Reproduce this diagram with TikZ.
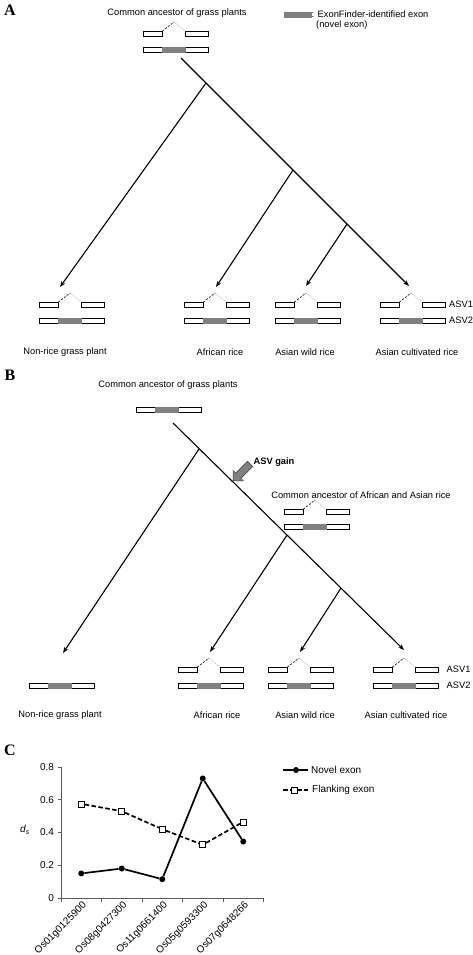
\documentclass[tikz,border=0pt]{standalone}
\usepackage{fontspec}
\setmainfont{Liberation Sans}
\newfontfamily\panelfont{Liberation Serif}
\usepackage{tikz}
\usetikzlibrary{arrows.meta, positioning, shapes.arrows}
\tikzset{%
	exon/.style={draw=black, fill=white, line width=0.7pt},
	novel/.style={draw=gray, fill=gray, line width=0.7pt},
	intron dark/.style={line width=0.6pt, dash pattern=on 2pt off 1.5pt},
	intron light/.style={line width=0.6pt, gray!60, dash pattern=on 1pt off 1pt},
	gene asv1/.pic={
		\draw[exon] (0,0) rectangle (19.5,5);
		\draw[exon] (42,0) rectangle (65,5);
		\draw[intron dark] (19.5,0) -- (31,-9);
		\draw[intron light] (31,-9) -- (42,0);
	},
	gene asv2/.pic={
		\draw[exon] (0,0) rectangle (65,5);
		\filldraw[novel] (19.5,0) rectangle (42,5);
	},
}

\begin{document}
\begin{tikzpicture}[
			x=1pt, y=-1pt,
			every node/.style={inner sep=0pt, font=\fontsize{9.3}{11}\selectfont},
			panel/.style={font=\panelfont\bfseries\fontsize{16}{18}\selectfont},
			branch/.style={line width=1.1pt},
			descent/.style={line width=1.1pt, -{Stealth[length=6pt, width=4.5pt]}},
			chart/.style={font=\fontsize{10}{12}\selectfont},
			axis/.style={line width=0.6pt, gray!70!black},
			novel line/.style={line width=1.7pt},
			flank line/.style={line width=1.7pt, dash pattern=on 4.5pt off 2.5pt},
			dot/.style={circle, fill=black, minimum size=6pt},
			box mark/.style={rectangle, draw=black, fill=white, line width=0.7pt, minimum size=6pt},
			]
			\useasboundingbox (0,0) rectangle (473,955);
			
			% Panel A
			\node[panel] (labA) at (10,10) {A};
			\node (titleA) at (177,13) {Common ancestor of grass plants};
			\pic at (143,31) {gene asv1};
			\pic at (143,47) {gene asv2};
			\node[novel, minimum width=27pt, minimum height=5pt] (key) at (297.5,14.5) {};
			\node[anchor=west] (keytext) at (311.5,14.5) {: ExonFinder-identified exon};
			\node[anchor=west] (keynote) at (316,25.5) {(novel exon)};
			
			% Tree A
			\coordinate (rootA) at (181,58);
			\coordinate (jA1) at (206,83);
			\coordinate (jA2) at (293,170);
			\coordinate (jA3) at (347,224);
			\coordinate (tipA0) at (60,287);
			\coordinate (tipA1) at (216,287);
			\coordinate (tipA2) at (306,286);
			\coordinate (tipA3) at (409,286);
			\draw[descent] (rootA) -- (tipA3);
			\draw[descent] (jA1) -- (tipA0);
			\draw[descent] (jA2) -- (tipA1);
			\draw[descent] (jA3) -- (tipA2);
			
			\foreach \gx in {39,184,275,380} {
				\pic at (\gx,302) {gene asv1};
				\pic at (\gx,318) {gene asv2};
			}
			\node[anchor=west] (asv1A) at (449,304.5) {ASV1};
			\node[anchor=west] (asv2A) at (449,320.5) {ASV2};
			\node (nonriceA) at (65,352) {Non-rice grass plant};
			\node (africanA) at (220,352) {African rice};
			\node (wildA) at (305,352) {Asian wild rice};
			\node (cultA) at (417,352) {Asian cultivated rice};
			
			% Panel B
			\node[panel] (labB) at (10,375) {B};
			\node (titleB) at (168,385) {Common ancestor of grass plants};
			\pic at (136,407) {gene asv2};
			
			% Tree B
			\coordinate (rootB) at (173,423);
			\coordinate (jB1) at (199,449);
			\coordinate (jB2) at (287,535);
			\coordinate (jB3) at (341,588);
			\coordinate (tipB0) at (63,653);
			\coordinate (tipB1) at (210,652);
			\coordinate (tipB2) at (300,652);
			\coordinate (tipB3) at (404,650);
			\draw[descent] (rootB) -- (tipB3);
			\draw[descent] (jB1) -- (tipB0);
			\draw[descent] (jB2) -- (tipB1);
			\draw[descent] (jB3) -- (tipB2);
			
			\node[single arrow, rotate=225, fill=gray, draw=gray!50!black, line width=0.5pt,
				inner sep=3.5pt, single arrow head extend=3.5pt, minimum height=24pt] (gain) at (243,471) {};
			\node[font=\bfseries\fontsize{9.3}{11}\selectfont] (gaintext) at (274,462) {ASV gain};
			\node (ancrice) at (361,495) {Common ancestor of African and Asian rice};
			\pic at (284,509) {gene asv1};
			\pic at (284,524) {gene asv2};
			
			\pic at (29,683) {gene asv2};
			\foreach \gx in {178,268,373} {
				\pic at (\gx,667) {gene asv1};
				\pic at (\gx,683) {gene asv2};
			}
			\node[anchor=west] (asv1B) at (446.5,669.5) {ASV1};
			\node[anchor=west] (asv2B) at (446.5,685.5) {ASV2};
			\node (nonriceB) at (60,715) {Non-rice grass plant};
			\node (africanB) at (217,715) {African rice};
			\node (wildB) at (305,715) {Asian wild rice};
			\node (cultB) at (406,715) {Asian cultivated rice};
			
			% Panel C
			\node[panel] (labC) at (10,750) {C};
			\node[chart] (dslabel) at (25,830) {\textit{d}\textsubscript{\textit{s}}};
			\begin{scope}[shift={(61,898)}, x=40.5pt, y=163.75pt, every node/.append style={chart}]
				\draw[axis] (0,0.8) -- (0,0) -- (5,0);
				\foreach \v/\t in {0/0, 0.2/0.2, 0.4/0.4, 0.6/0.6, 0.8/0.8} {
					\draw[axis] (0,\v) -- ++(-3pt,0);
					\node[anchor=east] (tick\t) at (-0.17,\v) {\t};
				}
				\foreach \i in {0,...,5}
					\draw[axis] (\i,0) -- ++(0,-4pt);
				\foreach \g [count=\i] in {Os01g0125900,Os08g0427300,Os11g0661400,Os05g0593300,Os07g0648266}
					\node[anchor=east, rotate=45] (gene\i) at ([shift={(4pt,-6pt)}]\i-0.5,0) {\g};
				% Flanking exon
				\foreach \v [count=\i] in {0.575,0.53,0.42,0.325,0.465}
					\node[box mark] (fl\i) at (\i-0.5,\v) {};
				\draw[flank line] (fl1) -- (fl2) -- (fl3) -- (fl4) -- (fl5);
				% Novel exon
				\foreach \v [count=\i] in {0.15,0.18,0.115,0.73,0.345}
					\node[dot] (nov\i) at (\i-0.5,\v) {};
				\draw[novel line] (nov1) -- (nov2) -- (nov3) -- (nov4) -- (nov5);
			\end{scope}
			
			% Legend of C
			\coordinate (kn1) at (283,770);
			\coordinate (kn2) at (308,770);
			\node[dot] (keynov) at (296,770) {};
			\draw[novel line] (kn1) -- (keynov) -- (kn2);
			\node[chart, anchor=west] (keynovtext) at (311,770) {Novel exon};
			\coordinate (kf1) at (283,790);
			\coordinate (kf2) at (308,790);
			\node[box mark] (keyfl) at (294,790) {};
			\draw[flank line] (kf1) -- (keyfl) -- (kf2);
			\node[chart, anchor=west] (keyfltext) at (312,790) {Flanking exon};
			
		\end{tikzpicture}
\end{document}
